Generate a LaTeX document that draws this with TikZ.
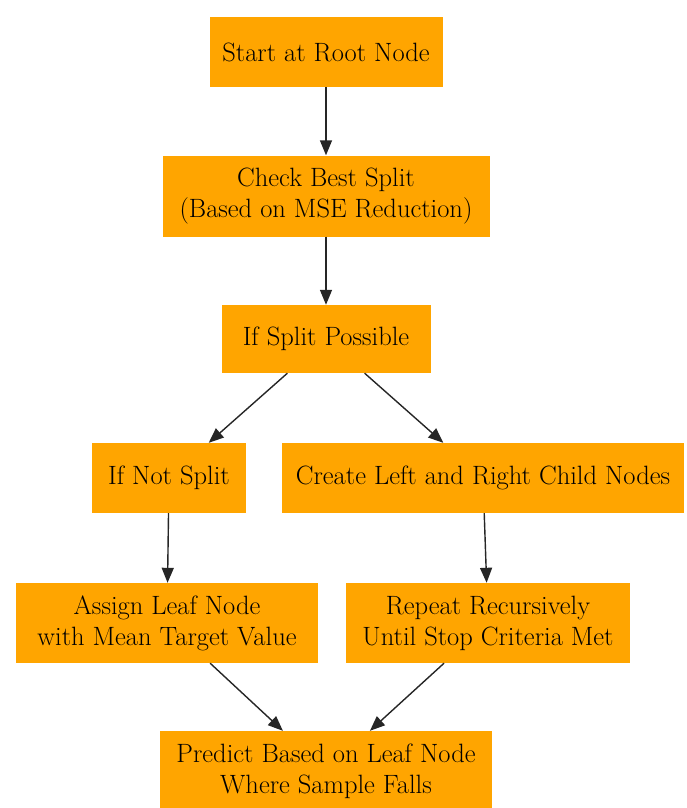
\documentclass[tikz,border=0pt]{standalone}
\usepackage{fontspec}
\usetikzlibrary{arrows.meta,positioning}
\definecolor{treeorange}{HTML}{FFA500}

\begin{document}
\begin{tikzpicture}[x=1pt,y=-1pt,
  stepbox/.style={fill=treeorange, draw=none, align=center, text=black,
    inner sep=0pt, font=\rmfamily\fontsize{26.5}{31}\selectfont},
  flow/.style={-{Triangle[length=15pt,width=12pt]}, line width=1.4pt, black!85}]
% page frame
\useasboundingbox (0,0) rectangle (686,808);
% boxes
\node[stepbox, minimum width=233pt, minimum height=70pt] (root) at (326,52) {Start at Root Node};
\node[stepbox, minimum width=327pt, minimum height=81pt] (check) at (326,196) {Check Best Split\\(Based on MSE Reduction)};
\node[stepbox, minimum width=209pt, minimum height=68pt] (possible) at (326,339) {If Split Possible};
\node[stepbox, minimum width=154pt, minimum height=70pt] (nosplit) at (169,478) {If Not Split};
\node[stepbox, minimum width=402pt, minimum height=70pt] (children) at (483,478) {Create Left and Right Child Nodes};
\node[stepbox, minimum width=302pt, minimum height=80pt] (leaf) at (167,623) {Assign Leaf Node\\with Mean Target Value};
\node[stepbox, minimum width=284pt, minimum height=80pt] (repeat) at (488,623) {Repeat Recursively\\Until Stop Criteria Met};
\node[stepbox, minimum width=332pt, minimum height=80pt] (predict) at (326,771) {Predict Based on Leaf Node\\Where Sample Falls};
% edges
\foreach \a/\b in {root/check,check/possible,possible/nosplit,possible/children,
  nosplit/leaf,children/repeat,leaf/predict,repeat/predict} {
  \draw[flow] (\a) -- (\b);
}
\end{tikzpicture}
\end{document}
